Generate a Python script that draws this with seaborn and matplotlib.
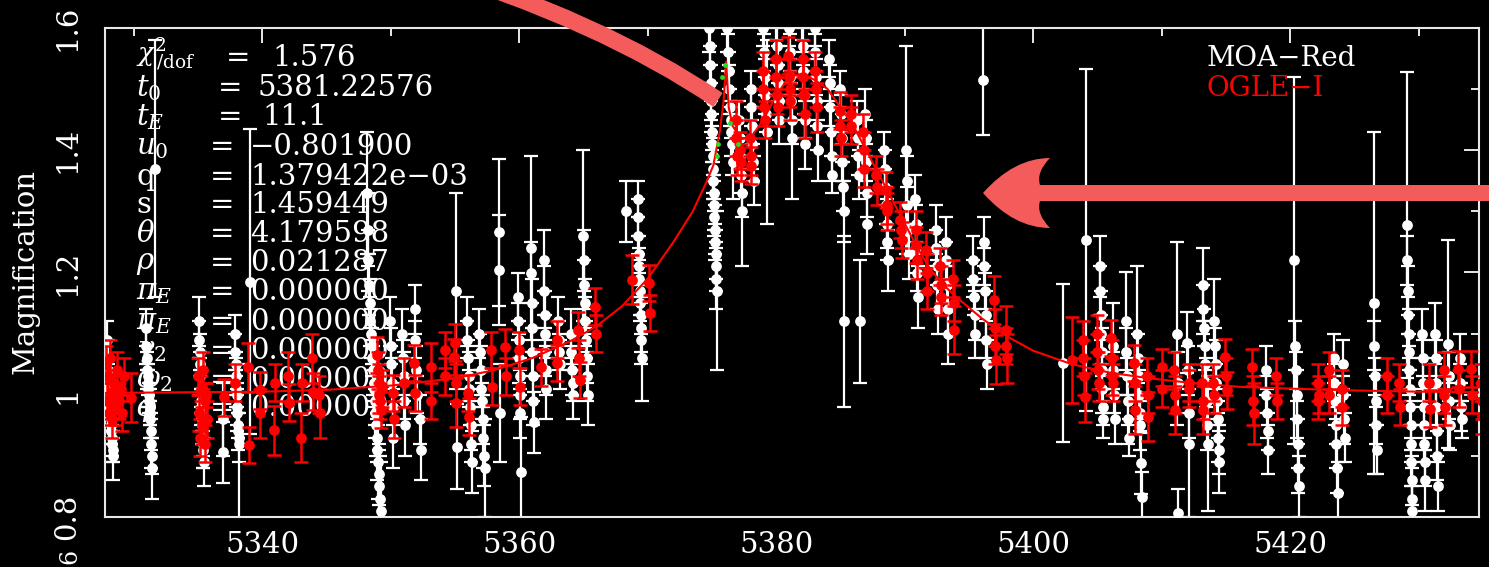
import matplotlib
matplotlib.use("Agg")
import matplotlib.pyplot as plt
import matplotlib.ticker as mtick
from matplotlib.path import Path
from matplotlib.patches import PathPatch
import seaborn as sns

W, H = 1489, 567

# ---- MOA-Red (white) ----
moa_t = [
    5327.92, 5327.95, 5327.98, 5328.01, 5328.04, 5328.07, 5328.10, 5328.13, 5328.16, 5328.19, 5328.22, 5328.25, 5328.28, 5328.31, 5328.34, 5328.37,
    5330.95, 5330.98, 5331.01, 5331.04, 5331.07, 5331.10, 5331.13, 5331.16, 5331.19, 5331.22, 5331.25, 5331.28, 5331.31, 5331.34, 5331.37, 5331.40, 5331.65,
    5335.05, 5335.08, 5335.11, 5335.14, 5335.17, 5335.20, 5335.23, 5335.26, 5335.29, 5335.32, 5335.35, 5335.38, 5335.41, 5335.44,
    5336.90, 5336.95, 5337.85, 5337.88, 5337.91, 5337.94, 5337.97, 5338.00, 5338.03, 5338.06, 5338.09, 5338.12, 5338.15, 5338.18, 5339.00,
    5348.15, 5348.20, 5348.25, 5348.30, 5348.35, 5348.40, 5348.45, 5348.50, 5348.55, 5348.60, 5348.65, 5348.70, 5348.75, 5348.80, 5348.85, 5348.90, 5348.95, 5349.00, 5349.05, 5349.10, 5349.15, 5349.20,
    5349.95, 5350.00, 5350.05, 5350.10, 5350.15, 5350.20, 5350.90, 5350.95, 5351.00, 5351.05, 5351.10, 5351.85, 5351.90, 5351.95, 5352.00, 5352.30, 5352.35,
    5355.10, 5355.15, 5355.90, 5355.95, 5356.00, 5356.05, 5356.10, 5356.15, 5356.20, 5356.25, 5356.30, 5356.90, 5356.95, 5357.00, 5357.05, 5357.10, 5357.15, 5357.20, 5357.25, 5357.30,
    5358.40, 5358.45, 5358.50, 5359.90, 5359.93, 5359.96, 5359.99, 5360.02, 5360.05, 5360.08, 5360.11,
    5360.90, 5360.93, 5360.96, 5360.99, 5361.02, 5361.05, 5361.08, 5361.11, 5361.90, 5361.93, 5361.96, 5361.99, 5362.02, 5362.05, 5362.08,
    5363.00, 5363.05, 5363.10, 5363.15, 5364.00, 5364.05, 5364.10, 5364.15, 5364.20, 5364.95, 5365.00, 5365.05, 5365.10, 5365.15, 5365.20, 5365.25, 5365.30, 5365.35,
    5368.30, 5369.20, 5369.23, 5369.26, 5369.29, 5369.32, 5369.35, 5369.38, 5369.41, 5369.44, 5369.47, 5369.50, 5369.53,
    5374.80, 5374.83, 5374.86, 5374.89, 5374.92, 5374.95, 5374.98, 5375.01, 5375.04, 5375.07, 5375.10, 5375.13, 5375.16, 5375.19, 5375.22, 5375.25, 5375.28, 5375.31, 5375.34, 5375.37,
    5376.20, 5376.25, 5376.30, 5376.35, 5376.40, 5376.45, 5376.50, 5376.55, 5376.60, 5377.10, 5377.15, 5377.20, 5377.25, 5377.30, 5377.35, 5378.00, 5378.05, 5378.10, 5378.15, 5378.20, 5378.25,
    5379.00, 5379.05, 5379.10, 5379.15, 5379.20, 5379.25,
    5380.00, 5380.05, 5380.10, 5380.15, 5380.20, 5380.25,
    5381.00, 5381.05, 5381.10, 5381.15, 5381.20, 5381.25,
    5382.00, 5382.05, 5382.10, 5382.15, 5382.20, 5382.25,
    5383.00, 5383.05, 5383.10, 5383.15, 5383.20, 5383.25,
    5384.10, 5384.15, 5384.20, 5384.25, 5384.30, 5384.35,
    5385.00, 5385.05, 5385.10, 5385.15, 5385.20, 5385.25, 5385.30, 5386.30, 5386.35, 5386.40, 5386.45, 5386.50, 5386.90, 5386.95, 5387.00, 5387.05, 5387.10,
    5388.40, 5388.45, 5388.50, 5388.55, 5388.60, 5388.65, 5388.70, 5390.10, 5390.15, 5390.20, 5390.25, 5390.30, 5390.80, 5390.85, 5390.90, 5390.95, 5391.00,
    5392.40, 5392.45, 5392.50, 5392.55, 5392.60, 5393.20, 5393.25, 5393.30, 5393.35, 5393.40, 5395.30, 5395.35, 5395.40, 5395.45, 5395.50, 5396.10, 5396.15, 5396.20, 5396.25, 5396.30, 5396.35, 5396.40,
    5402.30, 5404.10, 5405.20, 5405.23, 5405.26, 5405.29, 5405.32, 5405.35, 5405.38, 5405.41, 5405.44,
    5406.20, 5406.25, 5406.30, 5406.35, 5407.20, 5407.25, 5407.30, 5407.35, 5407.40, 5407.45, 5408.10, 5408.15, 5408.20, 5408.25, 5408.30, 5408.35, 5408.40, 5408.45,
    5411.20, 5411.25, 5411.30, 5412.00, 5412.05, 5412.10, 5412.15, 5413.20, 5413.25, 5413.30, 5413.35, 5413.40, 5413.45, 5413.50, 5413.55, 5413.60, 5414.10, 5414.15, 5414.20, 5414.25, 5414.30, 5414.35, 5414.40, 5414.45, 5414.50,
    5418.10, 5418.15, 5418.20, 5418.25, 5418.30, 5420.30, 5420.40, 5420.45, 5420.50, 5420.55, 5420.60, 5420.65, 5420.70, 5423.40, 5423.45, 5423.50, 5423.55, 5423.60, 5423.65, 5423.70, 5424.10, 5424.15, 5424.20, 5424.25,
    5426.50, 5426.55, 5426.60, 5426.65, 5426.70, 5426.75, 5429.10, 5429.13, 5429.16, 5429.19, 5429.22, 5429.25, 5429.28, 5429.31, 5429.34, 5429.37, 5429.40, 5429.43, 5429.46, 5429.49, 5429.52,
    5430.30, 5430.33, 5430.36, 5430.39, 5430.42, 5430.45, 5430.48, 5430.51, 5431.30, 5431.33, 5431.36, 5431.39, 5431.42, 5431.45, 5431.48, 5432.30, 5432.35, 5432.40, 5432.45, 5433.20, 5433.25, 5433.30, 5433.35,
]
moa_mag = [
    1.09, 1.06, 1.04, 1.02, 1.01, 1.00, 0.99, 0.98, 0.97, 0.96, 0.95, 0.94, 0.93, 0.92, 0.91, 0.90,
    1.11, 1.08, 1.06, 1.04, 1.03, 1.02, 1.01, 1.00, 0.99, 0.98, 0.97, 0.96, 0.94, 0.92, 0.90, 0.88, 1.37,
    1.12, 1.09, 1.07, 1.05, 1.03, 1.01, 0.99, 0.98, 0.96, 0.95, 0.93, 0.92, 0.91, 0.89,
    0.906, 0.96, 1.10, 1.07, 1.05, 1.03, 1.01, 1.00, 0.98, 0.97, 0.95, 0.94, 0.93, 0.92, 1.185,
    1.33, 1.27, 1.22, 1.18, 1.15, 1.12, 1.10, 1.08, 1.06, 1.04, 1.02, 1.01, 0.99, 0.97, 0.95, 0.93, 0.91, 0.89, 0.87, 0.85, 0.83, 0.81,
    1.12, 1.08, 1.05, 1.02, 0.98, 0.93, 1.10, 1.06, 1.03, 0.99, 0.95, 1.14, 1.09, 1.04, 1.00, 0.96, 0.91,
    1.17, 0.915, 1.12, 1.09, 1.06, 1.03, 1.01, 0.98, 0.95, 0.92, 0.89, 1.10, 1.07, 1.04, 1.01, 0.99, 0.96, 0.93, 0.90, 0.88,
    1.266, 1.204, 0.97, 1.16, 1.12, 1.09, 1.06, 1.03, 1.00, 0.97, 0.874,
    1.24, 1.20, 1.15, 1.11, 1.07, 1.03, 0.99, 0.955, 1.22, 1.17, 1.13, 1.10, 1.07, 1.04, 1.01,
    1.12, 1.09, 1.07, 1.05, 1.10, 1.07, 1.04, 1.02, 1.00, 1.26, 1.22, 1.18, 1.15, 1.12, 1.09, 1.06, 1.03, 1.00,
    1.30, 1.32, 1.29, 1.26, 1.23, 1.21, 1.19, 1.17, 1.15, 1.13, 1.11, 1.09, 1.06,
    1.60, 1.57, 1.54, 1.51, 1.48, 1.46, 1.43, 1.41, 1.39, 1.37, 1.35, 1.33, 1.31, 1.29, 1.27, 1.25, 1.23, 1.21, 1.19, 1.17,
    1.60, 1.56, 1.53, 1.50, 1.47, 1.45, 1.43, 1.41, 1.38, 1.45, 1.42, 1.39, 1.36, 1.33, 1.30, 1.50, 1.47, 1.44, 1.41, 1.38, 1.35,
    1.60, 1.56, 1.52, 1.49, 1.46, 1.43,
    1.61, 1.57, 1.54, 1.51, 1.48, 1.45,
    1.60, 1.56, 1.52, 1.48, 1.45, 1.42,
    1.61, 1.57, 1.53, 1.49, 1.45, 1.41,
    1.60, 1.56, 1.52, 1.48, 1.44, 1.40,
    1.55, 1.51, 1.47, 1.43, 1.39, 1.36,
    1.50, 1.46, 1.42, 1.38, 1.34, 1.30, 1.12, 1.45, 1.42, 1.39, 1.36, 1.12, 1.46, 1.42, 1.38, 1.33, 1.28,
    1.40, 1.37, 1.34, 1.31, 1.28, 1.25, 1.22, 1.40, 1.35, 1.31, 1.27, 1.23, 1.32, 1.28, 1.24, 1.20, 1.16,
    1.27, 1.24, 1.21, 1.18, 1.14, 1.25, 1.22, 1.18, 1.14, 1.10, 1.22, 1.19, 1.16, 1.13, 1.10, 1.515, 1.25, 1.21, 1.17, 1.13, 1.09, 1.05,
    1.052, 1.253, 1.21, 1.17, 1.13, 1.10, 1.07, 1.04, 1.01, 0.98, 0.96,
    1.08, 1.04, 1.00, 0.96, 1.12, 1.07, 1.03, 0.99, 0.96, 0.93, 1.10, 1.06, 1.03, 1.00, 0.97, 0.95, 0.888, 0.833,
    1.10, 1.02, 0.806, 1.085, 1.04, 0.97, 0.92, 1.18, 1.14, 1.11, 1.08, 1.05, 1.02, 0.99, 0.95, 0.92, 1.12, 1.08, 1.05, 1.02, 0.99, 0.96, 0.93, 0.91, 0.89,
    1.04, 1.00, 0.97, 0.94, 0.91, 1.22, 1.08, 1.04, 1.00, 0.96, 0.92, 0.88, 0.85, 1.06, 1.02, 0.99, 0.95, 0.92, 0.88, 0.84, 1.05, 1.00, 0.96, 0.93,
    1.15, 1.08, 1.03, 0.99, 0.95, 0.91, 1.278, 1.22, 1.17, 1.13, 1.10, 1.07, 1.04, 1.01, 0.98, 0.95, 0.92, 0.89, 0.86, 0.83, 0.81,
    1.10, 1.06, 1.02, 0.98, 0.95, 0.92, 0.89, 0.86, 1.10, 1.06, 1.02, 0.98, 0.94, 0.90, 0.85, 1.083, 1.03, 0.99, 0.95, 1.06, 1.02, 0.98, 0.96,
]
moa_err = [
    0.03, 0.03, 0.02, 0.03, 0.02, 0.02, 0.03, 0.02, 0.03, 0.02, 0.03, 0.02, 0.03, 0.03, 0.02, 0.04,
    0.03, 0.03, 0.02, 0.03, 0.02, 0.02, 0.03, 0.02, 0.02, 0.03, 0.02, 0.03, 0.03, 0.04, 0.03, 0.05, 0.21,
    0.04, 0.03, 0.03, 0.02, 0.03, 0.03, 0.02, 0.03, 0.02, 0.03, 0.03, 0.04, 0.03, 0.04,
    0.05, 0.06, 0.03, 0.03, 0.02, 0.03, 0.03, 0.02, 0.03, 0.03, 0.02, 0.03, 0.04, 0.13, 0.25,
    0.10, 0.06, 0.05, 0.05, 0.04, 0.04, 0.04, 0.03, 0.03, 0.04, 0.03, 0.03, 0.04, 0.04, 0.05, 0.04, 0.05, 0.06, 0.05, 0.06, 0.07, 0.08,
    0.04, 0.03, 0.03, 0.04, 0.03, 0.05, 0.04, 0.03, 0.04, 0.03, 0.05, 0.04, 0.03, 0.04, 0.03, 0.04, 0.05,
    0.16, 0.07, 0.04, 0.03, 0.03, 0.04, 0.03, 0.03, 0.04, 0.03, 0.05, 0.04, 0.03, 0.04, 0.03, 0.03, 0.04, 0.05, 0.05, 0.08,
    0.12, 0.09, 0.08, 0.04, 0.03, 0.03, 0.04, 0.03, 0.04, 0.04, 0.09,
    0.15, 0.05, 0.04, 0.04, 0.04, 0.04, 0.04, 0.05, 0.05, 0.04, 0.04, 0.03, 0.04, 0.04, 0.05,
    0.04, 0.03, 0.03, 0.04, 0.04, 0.03, 0.04, 0.03, 0.04, 0.14, 0.05, 0.04, 0.04, 0.04, 0.03, 0.04, 0.04, 0.05,
    0.05, 0.03, 0.03, 0.03, 0.03, 0.03, 0.03, 0.04, 0.03, 0.03, 0.04, 0.04, 0.07,
    0.04, 0.03, 0.03, 0.03, 0.03, 0.03, 0.03, 0.03, 0.03, 0.04, 0.03, 0.03, 0.04, 0.03, 0.04, 0.03, 0.04, 0.04, 0.05, 0.13,
    0.04, 0.03, 0.03, 0.04, 0.03, 0.03, 0.04, 0.05, 0.06, 0.03, 0.03, 0.03, 0.03, 0.04, 0.09, 0.03, 0.03, 0.03, 0.04, 0.03, 0.04,
    0.03, 0.03, 0.03, 0.03, 0.03, 0.15,
    0.03, 0.03, 0.03, 0.03, 0.03, 0.04,
    0.03, 0.03, 0.03, 0.03, 0.04, 0.10,
    0.03, 0.03, 0.03, 0.03, 0.03, 0.04,
    0.03, 0.03, 0.03, 0.04, 0.04, 0.05,
    0.03, 0.03, 0.03, 0.04, 0.04, 0.03,
    0.03, 0.03, 0.04, 0.03, 0.04, 0.05, 0.14, 0.03, 0.03, 0.03, 0.04, 0.10, 0.04, 0.03, 0.03, 0.04, 0.05,
    0.03, 0.03, 0.03, 0.03, 0.04, 0.03, 0.05, 0.17, 0.04, 0.03, 0.04, 0.04, 0.04, 0.03, 0.04, 0.03, 0.05,
    0.04, 0.03, 0.03, 0.04, 0.04, 0.04, 0.03, 0.03, 0.04, 0.05, 0.04, 0.03, 0.03, 0.04, 0.04, 0.09, 0.04, 0.03, 0.03, 0.04, 0.03, 0.04,
    0.13, 0.28, 0.05, 0.04, 0.04, 0.03, 0.04, 0.03, 0.04, 0.03, 0.03,
    0.07, 0.03, 0.03, 0.04, 0.08, 0.04, 0.03, 0.04, 0.04, 0.03, 0.11, 0.04, 0.03, 0.04, 0.03, 0.04, 0.05, 0.04,
    0.15, 0.05, 0.04, 0.05, 0.04, 0.04, 0.12, 0.06, 0.04, 0.03, 0.04, 0.03, 0.04, 0.03, 0.04, 0.11, 0.07, 0.03, 0.04, 0.03, 0.04, 0.03, 0.04, 0.04, 0.05,
    0.04, 0.03, 0.04, 0.03, 0.04, 0.30, 0.04, 0.03, 0.04, 0.03, 0.04, 0.04, 0.05, 0.04, 0.03, 0.04, 0.03, 0.04, 0.04, 0.05, 0.04, 0.03, 0.04, 0.04,
    0.28, 0.04, 0.03, 0.04, 0.03, 0.04, 0.25, 0.04, 0.04, 0.03, 0.04, 0.03, 0.04, 0.03, 0.03, 0.04, 0.03, 0.04, 0.04, 0.05, 0.04,
    0.04, 0.03, 0.04, 0.03, 0.04, 0.03, 0.04, 0.05, 0.05, 0.03, 0.04, 0.03, 0.04, 0.04, 0.04, 0.17, 0.04, 0.03, 0.04, 0.04, 0.03, 0.04, 0.03,
]

# ---- OGLE-I (red) ----
ogle_t = [
    5327.85, 5327.90, 5328.00, 5328.05, 5328.15, 5328.20, 5328.30, 5328.45, 5328.55, 5328.70, 5328.85, 5329.00, 5329.10, 5329.25, 5329.80,
    5335.00, 5335.10, 5335.15, 5335.25, 5335.30, 5335.40, 5335.50, 5335.55, 5335.65, 5335.70,
    5337.00, 5337.90, 5338.90, 5338.95, 5339.80, 5339.85, 5340.90, 5340.95, 5342.00, 5342.05, 5343.00, 5343.05, 5343.90, 5343.95, 5344.40, 5344.50,
    5348.95, 5349.00, 5349.05, 5349.10, 5349.15, 5349.20, 5349.30, 5350.20, 5350.25, 5351.00, 5351.80, 5351.85, 5353.10, 5353.15, 5354.20, 5354.25, 5354.90, 5355.00, 5355.05, 5355.10,
    5356.00, 5356.05, 5357.80, 5357.85, 5358.90, 5359.00, 5360.00, 5360.05, 5361.70, 5362.90, 5362.95, 5364.60, 5364.65, 5364.70, 5365.90, 5365.95, 5368.80, 5370.10, 5370.15,
    5376.85, 5376.90, 5376.95, 5377.20, 5377.25, 5377.95, 5378.00, 5378.05, 5378.95, 5379.00, 5379.05, 5379.10, 5379.95, 5380.00, 5380.05, 5380.10, 5380.95, 5381.00, 5381.05, 5381.10, 5382.05, 5382.10, 5382.15, 5382.20, 5383.05, 5383.10, 5383.15,
    5384.95, 5385.00, 5385.05, 5385.80, 5385.85, 5386.75, 5386.80, 5386.85, 5387.80, 5387.85, 5388.55, 5388.60, 5388.65, 5389.65, 5389.70, 5389.75, 5390.85, 5390.90, 5390.95, 5391.65, 5391.70, 5391.75, 5392.75, 5392.80, 5392.85, 5393.75, 5393.80, 5393.85, 5396.95, 5397.00, 5397.05, 5397.10, 5397.85, 5397.90, 5397.95,
    5403.00, 5403.85, 5403.90, 5403.95, 5404.00, 5404.95, 5405.00, 5405.05, 5405.10, 5406.05, 5406.10, 5406.15, 5406.20, 5407.85, 5407.90, 5407.95, 5408.85, 5408.90, 5408.95, 5410.00, 5410.05, 5410.95, 5411.00, 5411.05, 5412.10, 5412.15, 5413.15, 5413.20, 5413.25, 5414.00, 5414.05, 5414.95, 5415.00, 5415.05, 5417.05, 5417.10, 5417.15,
    5418.90, 5418.95, 5422.15, 5422.20, 5422.25, 5423.00, 5423.05, 5424.00, 5424.05, 5427.50, 5427.55, 5428.50, 5428.55, 5430.80, 5430.85, 5431.95, 5432.00, 5432.05, 5433.10, 5433.15, 5434.10, 5434.15, 5434.85, 5434.90, 5434.95,
]
ogle_mag = [
    1.05, 0.99, 1.03, 0.97, 1.06, 1.00, 0.96, 1.02, 0.98, 1.04, 0.99, 1.01, 0.97, 1.03, 0.995,
    1.03, 0.97, 0.93, 1.01, 0.95, 1.04, 0.99, 0.92, 1.00, 0.96,
    0.996, 1.02, 1.045, 0.918, 1.007, 0.97, 0.942, 1.02, 1.03, 0.987, 0.93, 1.02, 1.06, 1.005, 1.00, 0.97,
    1.065, 1.04, 1.02, 1.00, 0.99, 0.975, 1.01, 1.003, 0.96, 1.02, 1.052, 1.003, 1.045, 0.99, 1.073, 1.03, 1.062, 1.085, 1.02, 0.987,
    1.003, 0.964, 1.073, 1.013, 1.078, 1.03, 1.073, 1.013, 1.045, 1.09, 1.052, 1.106, 1.06, 1.024, 1.144, 1.10, 1.188, 1.183, 1.134,
    1.45, 1.42, 1.39, 1.40, 1.38, 1.42, 1.39, 1.375, 1.53, 1.50, 1.47, 1.45, 1.55, 1.52, 1.49, 1.47, 1.555, 1.52, 1.50, 1.48, 1.55, 1.52, 1.49, 1.46, 1.53, 1.50, 1.47,
    1.465, 1.44, 1.42, 1.46, 1.44, 1.43, 1.40, 1.37, 1.36, 1.34, 1.335, 1.31, 1.30, 1.286, 1.27, 1.253, 1.27, 1.245, 1.22, 1.237, 1.20, 1.17, 1.21, 1.18, 1.16, 1.19, 1.15, 1.106, 1.155, 1.11, 1.08, 1.057, 1.106, 1.08, 1.06,
    1.057, 1.09, 1.06, 1.03, 0.996, 1.10, 1.07, 1.04, 1.02, 1.093, 1.06, 1.03, 1.02, 1.052, 1.02, 0.975, 1.03, 1.00, 0.964, 1.045, 1.01, 1.04, 1.00, 0.975, 1.02, 1.01, 1.02, 0.99, 0.975, 1.02, 1.00, 1.062, 1.03, 1.007, 1.045, 0.99, 0.97,
    1.03, 0.99, 1.02, 0.99, 1.00, 1.04, 1.00, 1.01, 0.98, 1.03, 1.00, 1.02, 0.98, 1.02, 0.977, 1.04, 1.00, 0.98, 1.042, 1.01, 1.042, 1.00, 1.02, 0.99, 0.965,
]
ogle_err = [
    0.03, 0.03, 0.03, 0.02, 0.03, 0.03, 0.03, 0.02, 0.03, 0.03, 0.03, 0.02, 0.03, 0.03, 0.04,
    0.03, 0.03, 0.03, 0.02, 0.03, 0.03, 0.03, 0.03, 0.02, 0.03,
    0.03, 0.03, 0.04, 0.03, 0.03, 0.04, 0.04, 0.03, 0.04, 0.03, 0.04, 0.03, 0.04, 0.03, 0.03, 0.04,
    0.03, 0.03, 0.03, 0.03, 0.03, 0.03, 0.03, 0.03, 0.03, 0.04, 0.03, 0.03, 0.04, 0.03, 0.03, 0.03, 0.03, 0.03, 0.03, 0.04,
    0.03, 0.03, 0.03, 0.03, 0.03, 0.03, 0.03, 0.03, 0.03, 0.03, 0.03, 0.03, 0.03, 0.03, 0.03, 0.03, 0.04, 0.03, 0.03,
    0.03, 0.03, 0.03, 0.03, 0.03, 0.03, 0.03, 0.03, 0.03, 0.03, 0.03, 0.03, 0.03, 0.03, 0.03, 0.03, 0.03, 0.03, 0.03, 0.03, 0.03, 0.03, 0.03, 0.04, 0.03, 0.03, 0.04,
    0.03, 0.03, 0.03, 0.03, 0.03, 0.03, 0.03, 0.03, 0.03, 0.03, 0.03, 0.03, 0.03, 0.03, 0.03, 0.03, 0.03, 0.03, 0.03, 0.03, 0.03, 0.03, 0.03, 0.03, 0.03, 0.03, 0.03, 0.04, 0.04, 0.03, 0.03, 0.04, 0.04, 0.03, 0.04,
    0.07, 0.03, 0.03, 0.03, 0.04, 0.03, 0.03, 0.03, 0.03, 0.03, 0.03, 0.03, 0.03, 0.03, 0.03, 0.04, 0.03, 0.03, 0.04, 0.03, 0.03, 0.03, 0.03, 0.04, 0.03, 0.03, 0.03, 0.03, 0.04, 0.03, 0.03, 0.03, 0.03, 0.03, 0.03, 0.04, 0.05,
    0.03, 0.03, 0.03, 0.03, 0.03, 0.03, 0.03, 0.03, 0.03, 0.03, 0.03, 0.03, 0.03, 0.03, 0.03, 0.03, 0.03, 0.03, 0.03, 0.03, 0.03, 0.03, 0.03, 0.03, 0.03,
]

# ---- binary-lens model curve ----
model_t = [5327.7, 5340.0, 5345.0, 5350.0, 5355.0, 5358.0, 5361.0, 5364.0, 5366.0, 5368.0,
           5370.0, 5372.0, 5373.5, 5374.5, 5375.1, 5375.6, 5375.9, 5376.1, 5376.3, 5376.6,
           5377.2, 5378.0, 5379.0, 5380.0, 5381.0, 5382.0, 5383.0, 5384.0, 5385.0, 5386.0,
           5387.0, 5388.0, 5389.0, 5390.0, 5391.0, 5392.0, 5393.0, 5394.0, 5396.0, 5398.0,
           5400.0, 5403.0, 5406.0, 5409.0, 5412.0, 5416.0, 5420.0, 5425.0, 5430.0, 5435.0]
model_mag = [1.003, 1.005, 1.008, 1.015, 1.027, 1.040, 1.060, 1.088, 1.112, 1.145,
             1.190, 1.250, 1.300, 1.345, 1.375, 1.430, 1.480, 1.545, 1.470, 1.440,
             1.420, 1.420, 1.450, 1.490, 1.520, 1.525, 1.515, 1.500, 1.470, 1.440,
             1.400, 1.360, 1.320, 1.280, 1.240, 1.205, 1.180, 1.160, 1.125, 1.095,
             1.072, 1.050, 1.036, 1.027, 1.020, 1.013, 1.010, 1.007, 1.005, 1.004]
caustic_t = [5376.0, 5375.8, 5376.4, 5375.5, 5377.0, 5375.4]
caustic_mag = [1.540, 1.520, 1.445, 1.410, 1.410, 1.390]

param_labels = [r"$\chi^2_{\,/\mathrm{dof}}$", r"$t_0$", r"$t_E$", r"$u_0$", "q", "s",
                r"$\theta$", r"$\rho$", r"$\pi_E$", r"$\pi_E$", r"$\gamma_2$", r"$\omega_2$", r"$\phi$"]
param_values = ["1.576", "5381.22576", "11.1", "\u22120.801900", "1.379422e\u221203", "1.459449",
                "4.179598", "0.021287", "0.000000", "0.000000", "0.000000", "0.000000", "0.000000"]

sns.set_style("dark", {"axes.facecolor": "black", "figure.facecolor": "black"})
plt.rcParams.update({
    "font.family": ["DejaVu Serif"],
    "mathtext.fontset": "dejavuserif",
    "text.color": "white",
    "axes.edgecolor": "#e8e8e8",
})

FG = "#e8e8e8"
ARROW = "#f45b5b"
FS = 21

fig = plt.figure(figsize=(W / 100, H / 100), dpi=100, facecolor="black")
ax = fig.add_axes([105 / W, 1 - 517 / H, (1479 - 105) / W, (517 - 28) / H])
ax.set_facecolor("black")


def axfrac(x, y):
    """Image pixel -> axes fraction."""
    return (x - 105) / 1374, (517 - y) / 489


def figfrac(x, y):
    return x / W, 1 - y / H


# parameter block, drawn underneath the data
line_y = [58, 88, 117, 147, 177, 205, 234, 263, 292, 322, 351, 380, 408]
eq_x = [226, 218, 218] + [210] * 10
val_x = [272, 258, 262] + [250] * 10
for i, (lab, val, yy, ex, vx) in enumerate(zip(param_labels, param_values, line_y, eq_x, val_x)):
    ax.text(*axfrac(136, yy - (4 if i == 0 else 0)), lab, transform=ax.transAxes,
            color="white", fontsize=FS if i else FS - 2, va="center", ha="left", zorder=1)
    ax.text(*axfrac(ex, yy), "=", transform=ax.transAxes, color="white",
            fontsize=FS, va="center", ha="left", zorder=1)
    ax.text(*axfrac(vx, yy), val, transform=ax.transAxes, color="white",
            fontsize=FS, va="center", ha="left", zorder=1)

# MOA data
ax.errorbar(moa_t, moa_mag, yerr=moa_err, fmt="none", ecolor="white",
            elinewidth=1.6, capsize=5, capthick=1.6, zorder=2)
sns.scatterplot(x=moa_t, y=moa_mag, color="white", s=60, linewidth=0,
                ax=ax, zorder=3, legend=False)

# OGLE data
ax.errorbar(ogle_t, ogle_mag, yerr=ogle_err, fmt="none", ecolor="red",
            elinewidth=1.8, capsize=5, capthick=1.8, zorder=4)
sns.scatterplot(x=ogle_t, y=ogle_mag, color="red", s=60, linewidth=0,
                ax=ax, zorder=5, legend=False)

# model
sns.lineplot(x=model_t, y=model_mag, color="red", lw=1.5, sort=False,
             estimator=None, ax=ax, zorder=6)
sns.scatterplot(x=caustic_t, y=caustic_mag, color="#22dd22", s=12, linewidth=0,
                ax=ax, zorder=7, legend=False)

ax.set_xlim(5327.75, 5434.7)
ax.set_ylim(0.8, 1.6)

ax.xaxis.set_major_locator(mtick.MultipleLocator(20))
ax.xaxis.set_minor_locator(mtick.MultipleLocator(10))
ax.yaxis.set_major_locator(mtick.MultipleLocator(0.2))
ax.yaxis.set_minor_locator(mtick.MultipleLocator(0.1))
ax.yaxis.set_major_formatter(mtick.FuncFormatter(lambda v, _: f"{v:g}"))
ax.tick_params(which="both", direction="in", top=True, right=True,
               color=FG, width=1.4, labelcolor="white", labelsize=FS)
ax.tick_params(which="major", length=11)
ax.tick_params(which="minor", length=6)
ax.tick_params(axis="x", pad=10)
ax.tick_params(axis="y", pad=17, labelrotation=90)
for lab in ax.get_yticklabels():
    lab.set_va("center")
for sp in ax.spines.values():
    sp.set_visible(True)
    sp.set_color(FG)
    sp.set_linewidth(1.5)
ax.grid(False)

ax.set_xlabel("")
ax.set_ylabel("Magnification", color="white", fontsize=FS, va="center")
ax.yaxis.set_label_coords(*axfrac(25, 272))

# instrument labels
ax.text(*axfrac(1207, 58), "MOA\u2212Red", transform=ax.transAxes, color="white",
        fontsize=FS - 1, va="center", ha="left", zorder=8)
ax.text(*axfrac(1207, 88), "OGLE\u2212I", transform=ax.transAxes, color="red",
        fontsize=FS - 1, va="center", ha="left", zorder=8)

# remnant of a lower panel label at the bottom-left edge
fig.text(*figfrac(70, 556), "6", rotation=90, ha="center", va="center",
         color="white", fontsize=FS - 4)

# highlight arrows laid over the figure
curve = Path([figfrac(420, -35), figfrac(600, 20), figfrac(718, 100)],
             [Path.MOVETO, Path.CURVE3, Path.CURVE3])
fig.add_artist(PathPatch(curve, facecolor="none", edgecolor=ARROW, lw=12,
                         capstyle="butt", transform=fig.transFigure, zorder=10))

head_pts = [(983, 193), (1014, 158), (1050, 158), (1036, 172), (1040, 185),
            (1495, 185), (1495, 201), (1040, 201), (1036, 214), (1050, 228),
            (1014, 228), (983, 193), (983, 193)]
head_codes = [Path.MOVETO, Path.CURVE3, Path.CURVE3, Path.CURVE3, Path.CURVE3,
              Path.LINETO, Path.LINETO, Path.LINETO, Path.CURVE3, Path.CURVE3,
              Path.CURVE3, Path.CURVE3, Path.CLOSEPOLY]
arrow = Path([figfrac(x, y) for x, y in head_pts], head_codes)
fig.add_artist(PathPatch(arrow, facecolor=ARROW, edgecolor="none",
                         transform=fig.transFigure, zorder=10))

fig.savefig("out.png", dpi=100, facecolor="black")
